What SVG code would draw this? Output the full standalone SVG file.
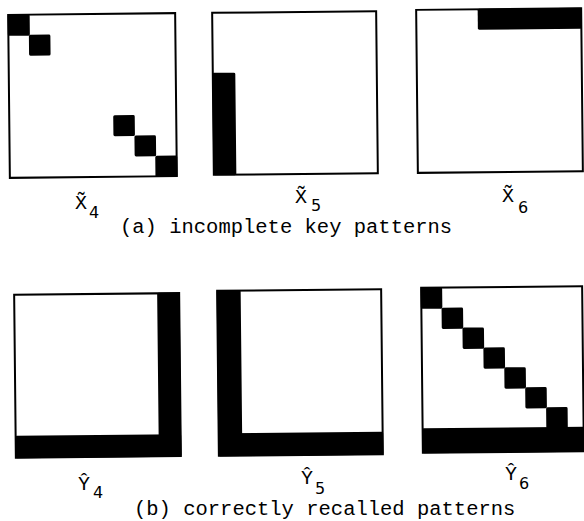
<svg xmlns="http://www.w3.org/2000/svg" width="584" height="521" viewBox="0 0 584 521">
  <style>
    .frame { fill: #fff; stroke: #000; stroke-width: 2; }
    .cell { fill: #000; }
    .sym { font-family: "Liberation Mono", "DejaVu Sans Mono", monospace; font-size: 20px; fill: #000; text-anchor: middle; }
    .sub { font-family: "DejaVu Sans", sans-serif; font-size: 16px; fill: #000; }
    .caption { font-family: "Liberation Mono", "Courier New", monospace; font-size: 20.5px; fill: #000; }
  </style>
  <rect width="584" height="521" fill="#fff"/>

  <!-- key pattern X4: diagonal cells (0,0) (1,1) (5,5) (6,6) (7,7) -->
  <g id="x4" transform="rotate(-0.6 92 95)">
    <rect class="frame" x="9" y="14" width="167" height="163"/>
    <rect class="cell" x="8.5" y="13.5" width="22" height="21.5" rx="1.5"/>
    <rect class="cell" x="29.5" y="34" width="21.5" height="21" rx="1.5"/>
    <rect class="cell" x="113" y="115.5" width="21.5" height="21" rx="1.5"/>
    <rect class="cell" x="134" y="136" width="21.5" height="21" rx="1.5"/>
    <rect class="cell" x="154.6" y="156.3" width="22" height="21.5" rx="1.5"/>
  </g>

  <!-- key pattern X5: left column, lower rows -->
  <g id="x5" transform="rotate(-0.6 295 93)">
    <rect class="frame" x="213" y="12" width="164" height="162"/>
    <rect class="cell" x="212.5" y="72" width="23" height="102.5" rx="1.5"/>
  </g>

  <!-- key pattern X6: top row, right part -->
  <g id="x6" transform="rotate(-0.6 500 90)">
    <rect class="frame" x="417" y="9" width="165" height="163"/>
    <rect class="cell" x="478.5" y="8.5" width="104" height="21" rx="1.5"/>
  </g>

  <!-- recalled pattern Y4: right column and bottom row -->
  <g id="y4" transform="rotate(-0.6 97 375)">
    <rect class="frame" x="15" y="294" width="165" height="163"/>
    <rect class="cell" x="158" y="293.5" width="22.5" height="164" rx="1.5"/>
    <rect class="cell" x="14.5" y="435" width="166" height="22.5" rx="1.5"/>
  </g>

  <!-- recalled pattern Y5: left column and bottom row -->
  <g id="y5" transform="rotate(-0.6 300 372)">
    <rect class="frame" x="218" y="290" width="164" height="165"/>
    <rect class="cell" x="217.5" y="289.5" width="24" height="166" rx="1.5"/>
    <rect class="cell" x="217.5" y="432.5" width="165" height="23" rx="1.5"/>
  </g>

  <!-- recalled pattern Y6: staircase diagonal and bottom row -->
  <g id="y6" transform="rotate(-0.6 503 370)">
    <rect class="frame" x="422" y="287" width="161" height="165"/>
    <rect class="cell" x="421.5" y="286.5" width="21.5" height="21.5" rx="1.5"/>
    <rect class="cell" x="442.2" y="307.1" width="21.5" height="21.3" rx="1.5"/>
    <rect class="cell" x="462.9" y="327.2" width="21.5" height="21.3" rx="1.5"/>
    <rect class="cell" x="483.6" y="347.3" width="21.5" height="21.3" rx="1.5"/>
    <rect class="cell" x="504.3" y="367.4" width="21.5" height="21.3" rx="1.5"/>
    <rect class="cell" x="525" y="387.5" width="21.5" height="21.3" rx="1.5"/>
    <rect class="cell" x="545.7" y="407.6" width="21.5" height="21.3" rx="1.5"/>
    <rect class="cell" x="421.5" y="427.5" width="168" height="25" rx="1.5"/>
  </g>

  <!-- pattern labels -->
  <g id="label-x4">
    <text class="sym" x="81" y="209">X&#x303;</text>
    <text class="sub" x="89" y="218">4</text>
  </g>
  <g id="label-x5">
    <text class="sym" x="301" y="203">X&#x303;</text>
    <text class="sub" x="311" y="211">5</text>
  </g>
  <g id="label-x6">
    <text class="sym" x="508" y="202">X&#x303;</text>
    <text class="sub" x="518" y="213">6</text>
  </g>
  <g id="label-y4">
    <text class="sym" x="84" y="490">&#x176;</text>
    <text class="sub" x="93" y="498">4</text>
  </g>
  <g id="label-y5">
    <text class="sym" x="307" y="484">&#x176;</text>
    <text class="sub" x="315" y="494">5</text>
  </g>
  <g id="label-y6">
    <text class="sym" x="511" y="480">&#x176;</text>
    <text class="sub" x="519" y="489">6</text>
  </g>

  <!-- captions -->
  <text class="caption" x="120" y="233">(a) incomplete key patterns</text>
  <text class="caption" x="134" y="515">(b) correctly recalled patterns</text>
</svg>
